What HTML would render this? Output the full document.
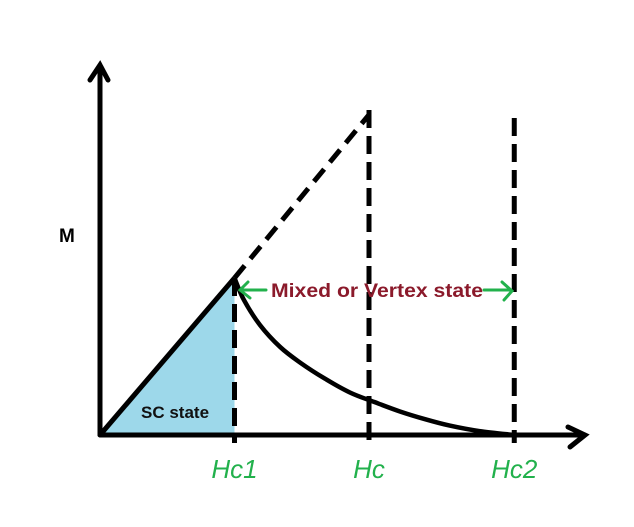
<!DOCTYPE html>
<html><head><meta charset="utf-8"><style>
html,body{margin:0;padding:0;background:#fff;}
svg{display:block;font-family:"Liberation Sans",sans-serif;}
</style></head><body>
<svg id="chart" width="634" height="527" viewBox="0 0 634 527">
<g id="g"></g>
</svg>
<script>
const curveH = [1.0, 1.07, 1.19, 1.34, 1.49, 1.67, 1.86, 2.04, 2.23, 2.42, 2.6, 2.82, 3.08];
const curveM = [1.0, 0.86, 0.70, 0.56, 0.46, 0.36, 0.27, 0.21, 0.15, 0.10, 0.06, 0.025, 0.0];
const fieldLabels = ["Hc1", "Hc", "Hc2"];
const fieldValues = [1.0, 2.0, 3.08];
const peakM = [1.0, 2.04];

const X = h => 100 + 134.5 * h;
const Y = m => 435 - 157 * m;
const NS = "http://www.w3.org/2000/svg";
const g = document.getElementById("g");
function mk(tag, attrs, parent) {
  const e = document.createElementNS(NS, tag);
  for (const k in attrs) e.setAttribute(k, attrs[k]);
  (parent || g).appendChild(e);
  return e;
}
const tri = mk("polygon", {points: `${X(0)},${Y(0)} ${X(fieldValues[0])},${Y(peakM[0])} ${X(fieldValues[0])},${Y(0)}`, fill: "#9dd8ea"});


const xa = mk("path", {d: "M100 435 L585 435 M568 427 L585 435 L570 447", stroke: "#000", "stroke-width": 5, fill: "none", "stroke-linecap": "round"});


const ya = mk("path", {d: "M100 435 L100 65 M90 80 L100 65 L108 80", stroke: "#000", "stroke-width": 5, fill: "none", "stroke-linecap": "round"});


const rise = mk("line", {x1: X(0), y1: Y(0), x2: X(fieldValues[0]), y2: Y(peakM[0]), stroke: "#000", "stroke-width": 5});


const ext = mk("line", {x1: X(fieldValues[0]), y1: Y(peakM[0]), x2: X(fieldValues[1]), y2: Y(peakM[1]), stroke: "#000", "stroke-width": 5, "stroke-dasharray": "16 9"});


const tops = [Y(peakM[0]), 110, 118];
fieldValues.forEach((h, i) => {
  const l = mk("line", {x1: X(h), y1: tops[i], x2: X(h), y2: 443, stroke: "#000", "stroke-width": 5, "stroke-dasharray": "18 8"});
  
  
  const t = mk("text", {x: X(h), y: 478, "text-anchor": "middle", fill: "#22b14c", "font-size": 26, "font-style": "italic"});
  t.textContent = fieldLabels[i];
  
  
});
// smooth decay curve (Catmull-Rom)
const P = curveH.map((h, i) => [X(h), Y(curveM[i])]);
let d = "M" + P[0][0] + " " + P[0][1];
for (let i = 0; i < P.length - 1; i++) {
  const p0 = P[Math.max(0, i - 1)], p1 = P[i], p2 = P[i + 1], p3 = P[Math.min(P.length - 1, i + 2)];
  const c1 = [p1[0] + (p2[0] - p0[0]) / 6, p1[1] + (p2[1] - p0[1]) / 6];
  const c2 = [p2[0] - (p3[0] - p1[0]) / 6, p2[1] - (p3[1] - p1[1]) / 6];
  d += ` C${c1[0]} ${c1[1]} ${c2[0]} ${c2[1]} ${p2[0]} ${p2[1]}`;
}
const c = mk("path", {d: d, stroke: "#000", "stroke-width": 4.5, fill: "none", "stroke-linejoin": "round"});


const ar = mk("path", {d: "M240 290 L266 290 M248 282 L240 290 L250 298 M484 290 L511 290 M502 282 L512 291 L504 300", stroke: "#22b14c", "stroke-width": 3, fill: "none", "stroke-linecap": "round"});


const mt = mk("text", {x: 271, y: 297, fill: "#8b1a2b", "font-size": 19, "font-weight": "bold", textLength: 212, lengthAdjust: "spacingAndGlyphs"});
mt.textContent = "Mixed or Vertex state";


const sc = mk("text", {x: 141, y: 418, fill: "#111", "font-size": 17, "font-weight": "bold"});
sc.textContent = "SC state";


const m = mk("text", {x: 59, y: 242, fill: "#000", "font-size": 19, "font-weight": "bold"});
m.textContent = "M";


</script>
</body></html>
